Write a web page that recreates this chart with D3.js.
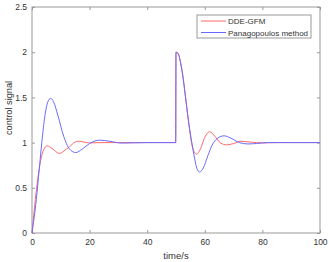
<!DOCTYPE html>
<html>
<head>
<meta charset="utf-8">
<script src="https://cdn.jsdelivr.net/npm/d3@7"></script>
<style>
  body { margin: 0; background: #fff; }
  text { font-family: "Liberation Sans", Arial, sans-serif; fill: #333; }
</style>
</head>
<body>
<svg id="chart" width="329" height="262"></svg>
<script>
// values
const ddeT = [0, 1.15, 2, 3, 4, 5.3, 7, 9.5, 12, 16, 20, 25, 30, 40, 49.9, 50, 50.7, 51.5, 52.5, 53.5, 54.5, 55.5, 56.3, 57.1, 58.5, 60, 61.7, 63.5, 65.5, 67.6, 70, 72.5, 76, 80, 85, 100];
const ddeV = [0, 0.37, 0.6, 0.8, 0.92, 0.963, 0.935, 0.88, 0.93, 1.015, 0.997, 1.0, 1.0, 1.0, 1.0, 2.0, 1.99, 1.9, 1.72, 1.45, 1.2, 0.98, 0.9, 0.872, 0.93, 1.06, 1.12, 1.07, 0.995, 0.975, 0.99, 1.015, 1.005, 0.997, 1.0, 1.0];

const panT = [0, 1.5, 2.5, 3.4, 4.5, 5.5, 6.5, 7.5, 9, 11, 13, 15.2, 17.5, 20, 23.5, 27, 31, 35, 40, 49.9, 50, 50.8, 51.6, 52.5, 53.5, 54.5, 55.5, 56.5, 57.3, 58.2, 59.5, 61, 62.5, 64.5, 66.7, 69, 72, 75, 78, 82, 100];
const panV = [0, 0.37, 0.7, 1.0, 1.3, 1.45, 1.49, 1.45, 1.3, 1.07, 0.93, 0.89, 0.93, 0.99, 1.027, 1.015, 0.995, 0.997, 1.0, 1.0, 2.0, 1.98, 1.88, 1.7, 1.45, 1.2, 1.0, 0.82, 0.71, 0.675, 0.72, 0.85, 0.97, 1.05, 1.075, 1.05, 1.0, 0.985, 0.99, 1.0, 1.0];

const xTicks = [0, 20, 40, 60, 80, 100];
const yTicks = [0, 0.5, 1, 1.5, 2, 2.5];
const seriesNames = ['DDE-GFM', 'Panagopoulos method'];
const seriesColors = ['#ff6a6a', '#6a6aff'];

const box = { left: 32, right: 320, top: 7, bottom: 233 };

const svg = d3.select('#chart');

const x = d3.scaleLinear().domain([0, 100]).range([box.left, box.right]);
const y = d3.scaleLinear().domain([0, 2.5]).range([box.bottom, box.top]);

const axisColor = '#999';

// bottom / left axes with inward ticks
const gx = svg.append('g')
    .attr('transform', 'translate(0,' + box.bottom + ')')
    .call(d3.axisBottom(x).tickValues(xTicks).tickSizeInner(-3).tickSizeOuter(0).tickPadding(6));
const gy = svg.append('g')
    .attr('transform', 'translate(' + box.left + ',0)')
    .call(d3.axisLeft(y).tickValues(yTicks).tickSizeInner(-3).tickSizeOuter(0).tickPadding(5)
        .tickFormat(d => String(d)));
// mirrored ticks on top / right
const gxt = svg.append('g')
    .attr('transform', 'translate(0,' + box.top + ')')
    .call(d3.axisTop(x).tickValues(xTicks).tickSizeInner(-3).tickSizeOuter(0).tickFormat(''));
const gyr = svg.append('g')
    .attr('transform', 'translate(' + box.right + ',0)')
    .call(d3.axisRight(y).tickValues(yTicks).tickSizeInner(-3).tickSizeOuter(0).tickFormat(''));

[gx, gy, gxt, gyr].forEach(g => {
    g.select('.domain').remove();
    g.selectAll('line').attr('stroke', axisColor);
    g.selectAll('text').attr('font-size', 8.5).attr('fill', '#333')
        .attr('font-family', '"Liberation Sans", Arial, sans-serif');
});

svg.append('rect')
    .attr('x', box.left).attr('y', box.top)
    .attr('width', box.right - box.left).attr('height', box.bottom - box.top)
    .attr('fill', 'none').attr('stroke', axisColor).attr('stroke-width', 1);

const line = d3.line()
    .x(d => x(d[0]))
    .y(d => y(d[1]))
    .curve(d3.curveMonotoneX);

const series = [
    ddeT.map((t, i) => [t, ddeV[i]]),
    panT.map((t, i) => [t, panV[i]])
];

svg.append('g').selectAll('path')
    .data(series).enter()
    .append('path')
        .attr('d', line)
        .attr('fill', 'none')
        .attr('stroke', (d, i) => seriesColors[i])
        .attr('stroke-width', 1);

// axis labels
svg.append('text')
    .attr('x', (box.left + box.right) / 2)
    .attr('y', 259)
    .attr('text-anchor', 'middle')
    .attr('font-size', 9.5)
    .text('time/s');

svg.append('text')
    .attr('transform', 'translate(12,108) rotate(-90)')
    .attr('text-anchor', 'middle')
    .attr('font-size', 9.2)
    .text('control signal');

// legend
const legend = svg.append('g');
legend.append('rect')
    .attr('x', 197).attr('y', 15)
    .attr('width', 114).attr('height', 23)
    .attr('fill', '#fff').attr('stroke', axisColor).attr('stroke-width', 1);

seriesNames.forEach((name, i) => {
    const ly = 21 + i * 11.5;
    legend.append('line')
        .attr('x1', 201).attr('x2', 226)
        .attr('y1', ly).attr('y2', ly)
        .attr('stroke', seriesColors[i]).attr('stroke-width', 1);
    legend.append('text')
        .attr('x', 228).attr('y', ly + 3)
        .attr('font-size', 8)
        .text(name);
});
</script>
</body>
</html>
